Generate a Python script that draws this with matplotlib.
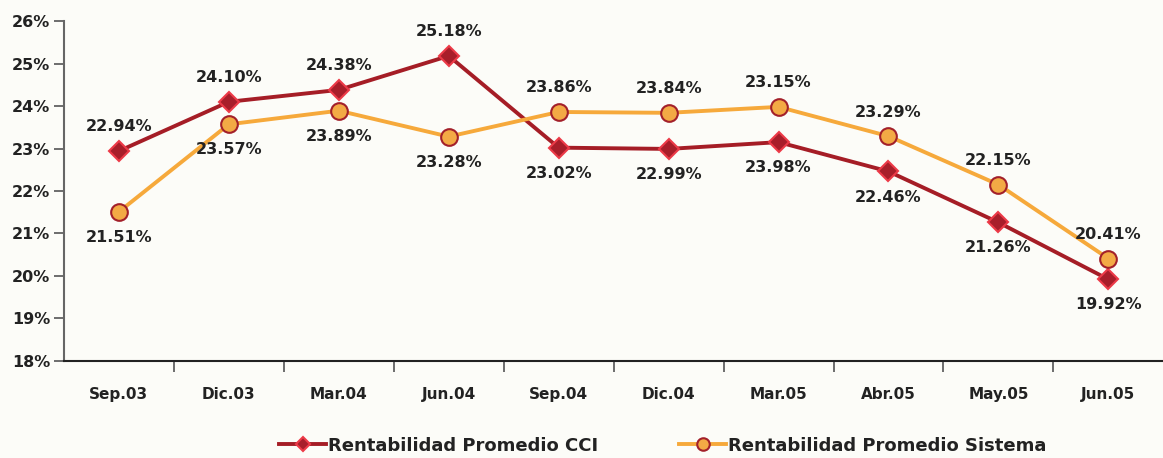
import numpy as np
from matplotlib import pyplot as plt

periods = ['Sep.03', 'Dic.03', 'Mar.04', 'Jun.04', 'Sep.04',
           'Dic.04', 'Mar.05', 'Abr.05', 'May.05', 'Jun.05']
cci = [22.94, 24.10, 24.38, 25.18, 23.02, 22.99, 23.15, 22.46, 21.26, 19.92]
sistema = [21.51, 23.57, 23.89, 23.28, 23.86, 23.84, 23.98, 23.29, 22.15, 20.41]
# labels as printed in the source (Mar.05 labels appear swapped there)
cci_labels = ['22.94%', '24.10%', '24.38%', '25.18%', '23.02%',
              '22.99%', '23.98%', '22.46%', '21.26%', '19.92%']
sis_labels = ['21.51%', '23.57%', '23.89%', '23.28%', '23.86%',
              '23.84%', '23.15%', '23.29%', '22.15%', '20.41%']
cci_above = [True, True, True, True, False, False, False, False, False, False]
sis_above = [False, False, False, False, True, True, True, True, True, True]

bg = '#fcfcf8'
red = '#a51d26'
orange = '#f6a93b'
txt = '#222222'
plt.rcParams['font.family'] = ['DejaVu Sans']
plt.rcParams['font.weight'] = 'bold'

fig = plt.figure(figsize=(11.63, 4.58), dpi=100, facecolor=bg)
ax = fig.add_axes([0.055, 0.212, 0.95, 0.742], facecolor=bg)

x = np.arange(len(periods))
ax.plot(x, cci, color=red, lw=2.8, marker='D', ms=10, mfc='#a81e2a',
        mec='#ec3a48', mew=1.5, label='Rentabilidad Promedio CCI', zorder=3)
ax.plot(x, sistema, color=orange, lw=2.8, marker='o', ms=12, mfc='#f3aa45',
        mec='#a3202a', mew=1.5, label='Rentabilidad Promedio Sistema', zorder=3)

for xi, v, t, up in zip(x, cci, cci_labels, cci_above):
    ax.annotate(t, (xi, v), xytext=(0, 12 if up else -13), textcoords='offset points',
                ha='center', va='bottom' if up else 'top', fontsize=11.5,
                fontweight='bold', color=txt)
for xi, v, t, up in zip(x, sistema, sis_labels, sis_above):
    ax.annotate(t, (xi, v), xytext=(0, 12 if up else -13), textcoords='offset points',
                ha='center', va='bottom' if up else 'top', fontsize=11.5,
                fontweight='bold', color=txt)

ax.set_xlim(-0.5, len(periods) - 0.45)
ax.set_ylim(18, 26)
ax.set_yticks(np.arange(18, 27, 1))
ax.set_yticklabels([f'{v}%' for v in range(18, 27)], fontsize=11.5,
                   fontweight='bold', color=txt)
ax.set_xticks(x)
ax.set_xticklabels(periods, fontsize=11, fontweight='bold', color=txt)
ax.set_xticks(np.arange(0.5, len(periods) - 0.5, 1), minor=True)
ax.tick_params(axis='x', which='major', length=0, pad=19)
ax.tick_params(axis='x', which='minor', length=8, width=1.2, color='#555555', direction='out')
ax.tick_params(axis='y', length=7, width=1.2, color='#555555', pad=3)

for s in ['top', 'right']:
    ax.spines[s].set_visible(False)
ax.spines['left'].set_color('#666666')
ax.spines['left'].set_linewidth(1.5)
ax.spines['bottom'].set_color('#222222')
ax.spines['bottom'].set_linewidth(1.5)

leg = fig.legend(loc='lower center', bbox_to_anchor=(0.57, -0.028), ncol=2, frameon=False,
                 handlelength=2.6, columnspacing=4.5, handletextpad=0.1, markerscale=0.75,
                 prop={'weight': 'bold', 'size': 13})
for t in leg.get_texts():
    t.set_color(txt)

fig.savefig('out.png', dpi=100, facecolor=bg)
